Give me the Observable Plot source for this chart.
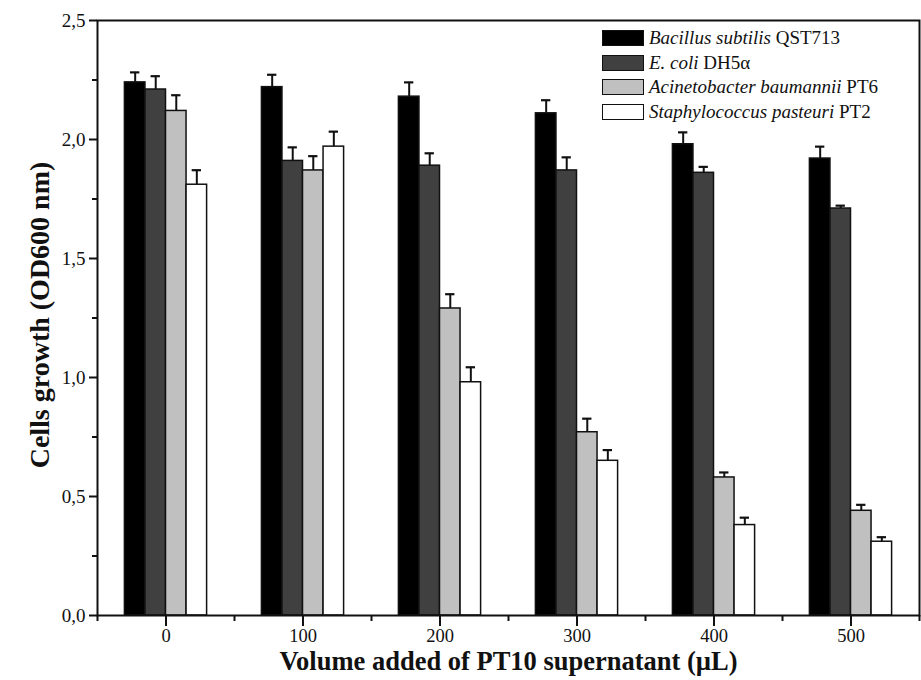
<!DOCTYPE html>
<html><head><meta charset="utf-8">
<script src="https://cdn.jsdelivr.net/npm/d3@7"></script>
<script src="https://cdn.jsdelivr.net/npm/@observablehq/plot@0.6"></script>
<style>
body{margin:0;background:#fff;}
#wrap{position:relative;width:921px;height:680px;}
.legend{position:absolute;left:602px;top:26px;font-family:"Liberation Serif","Times New Roman",serif;font-size:19px;color:#111;}
.row{display:flex;align-items:center;height:24.5px;}
.sw{width:40px;height:14px;border:1.6px solid #111;margin-right:5px;box-sizing:content-box;}
</style></head><body><div id="wrap"></div>
<script>
const volumes = [0, 100, 200, 300, 400, 500];
const seriesNames = ["Bacillus subtilis QST713", "E. coli DH5α", "Acinetobacter baumannii PT6", "Staphylococcus pasteuri PT2"];
const speciesItalic = ["Bacillus subtilis", "E. coli", "Acinetobacter baumannii", "Staphylococcus pasteuri"];
const strains = ["QST713", "DH5α", "PT6", "PT2"];
const colors = ["#000000", "#404040", "#c0c0c0", "#ffffff"];

const bacillus = [2.24, 2.22, 2.18, 2.11, 1.98, 1.92];
const bacillusErr = [0.042, 0.052, 0.06, 0.055, 0.05, 0.05];
const ecoli = [2.21, 1.91, 1.89, 1.87, 1.86, 1.71];
const ecoliErr = [0.056, 0.057, 0.052, 0.055, 0.025, 0.012];
const acinetobacter = [2.12, 1.87, 1.29, 0.77, 0.58, 0.44];
const acinetobacterErr = [0.066, 0.06, 0.06, 0.057, 0.021, 0.025];
const staphylococcus = [1.81, 1.97, 0.98, 0.65, 0.38, 0.31];
const staphylococcusErr = [0.061, 0.063, 0.063, 0.045, 0.031, 0.019];

const yMajor = [0, 0.5, 1.0, 1.5, 2.0, 2.5];
const yMinor = [0.25, 0.75, 1.25, 1.75, 2.25];
const xMajor = [0, 100, 200, 300, 400, 500];
const xMinor = [-50, 50, 150, 250, 350, 450, 550];
const yTitle = "Cells growth (OD600 nm)";
const xTitle = "Volume added of PT10 supernatant (µL)";

const allValues = [bacillus, ecoli, acinetobacter, staphylococcus];
const allErr = [bacillusErr, ecoliErr, acinetobacterErr, staphylococcusErr];
const barW = 15;
const data = [];
allValues.forEach((vals, s) => {
  vals.forEach((v, i) => {
    const x1 = volumes[i] - 2 * barW + s * barW;
    data.push({series: seriesNames[s], x1, x2: x1 + barW, cx: x1 + barW / 2,
      value: v, top: v + allErr[s][i]});
  });
});

const fmt = d => d.toFixed(1).replace(".", ",");

const chart = Plot.plot({
  width: 921, height: 680,
  marginLeft: 97, marginRight: 2, marginTop: 20, marginBottom: 65,
  x: {domain: [-50, 550]},
  y: {domain: [0, 2.5]},
  color: {domain: seriesNames, range: colors},
  style: {fontFamily: "'Liberation Serif', serif", fontSize: "18px", color: "#111", background: "#fff"},
  marks: [
    Plot.rect(data, {x1: "x1", x2: "x2", y1: d => 0, y2: "value", fill: "series", stroke: "#111", strokeWidth: 1.5}),
    Plot.ruleX(data, {x: "cx", y1: "value", y2: "top", stroke: "#111", strokeWidth: 2}),
    Plot.ruleY(data, {y: "top", x1: d => d.cx - 3.4, x2: d => d.cx + 3.4, stroke: "#111", strokeWidth: 2.2}),
    Plot.frame({stroke: "#111", strokeWidth: 2}),
    Plot.axisY({ticks: yMajor, tickSize: 8, tickPadding: 4, tickFormat: fmt, strokeWidth: 2, fontSize: 19, label: null}),
    Plot.axisY({ticks: yMinor, tickSize: 5, tickFormat: () => "", strokeWidth: 2, label: null}),
    Plot.axisX({ticks: xMajor, tickSize: 11, tickPadding: 2, tickFormat: d => String(d), strokeWidth: 2, fontSize: 18.5, label: null}),
    Plot.axisX({ticks: xMinor, tickSize: 6, tickFormat: () => "", strokeWidth: 2, label: null}),
    Plot.text([yTitle], {text: d => d, frameAnchor: "left", dx: -57, dy: -3, rotate: -90, textAnchor: "middle", fontSize: 28, fontWeight: "bold", fill: "#111"}),
    Plot.text([xTitle], {text: d => d, frameAnchor: "bottom", dy: 54, textAnchor: "middle", fontSize: 26.5, fontWeight: "bold", fill: "#111"})
  ]
});
const wrap = document.getElementById("wrap");
wrap.appendChild(chart);

const legend = document.createElement("div");
legend.className = "legend";
seriesNames.forEach((name, s) => {
  const row = document.createElement("div");
  row.className = "row";
  const sw = document.createElement("span");
  sw.className = "sw";
  sw.style.background = colors[s];
  const label = document.createElement("span");
  const it = document.createElement("i");
  it.textContent = speciesItalic[s];
  label.appendChild(it);
  label.appendChild(document.createTextNode(" " + strains[s]));
  row.appendChild(sw);
  row.appendChild(label);
  legend.appendChild(row);
});
wrap.appendChild(legend);
</script>
</body></html>
